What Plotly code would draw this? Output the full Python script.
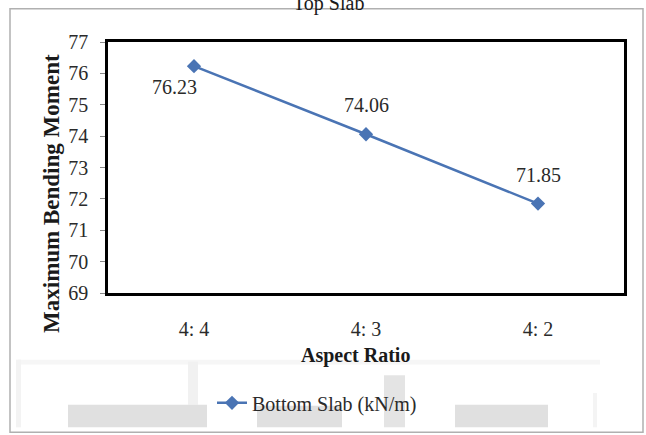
import plotly.graph_objects as go

# ---- data ----
categories = ["4: 4", "4: 3", "4: 2"]
bottom_slab = [76.23, 74.06, 71.85]
series_name = "Bottom Slab (kN/m)"
y_ticks = [69, 70, 71, 72, 73, 74, 75, 76, 77]

# ---- layout geometry (pixels) ----
W, H = 646, 435
ML, MR, MT, MB = 108, 22, 42, 137
PW, PH = W - ML - MR, H - MT - MB

def px(x):
    return (x - ML) / PW

def py(y):
    return (H - MB - y) / PH

FONT = "Liberation Serif"
BLUE = "#4a74b4"
TXT = "#2a2a2a"

fig = go.Figure()
fig.add_trace(go.Scatter(
    x=categories, y=bottom_slab, mode="lines+markers", name=series_name,
    line=dict(color=BLUE, width=2.5),
    marker=dict(symbol="diamond", size=11, color=BLUE),
    cliponaxis=False,
))

# data labels
label_offsets = [(-20, -21), (0, 29), (0, 29)]
annotations = []
for cat, val, (dx, dy) in zip(categories, bottom_slab, label_offsets):
    annotations.append(dict(
        x=cat, y=val, xref="x", yref="y", text=f"{val:.2f}", showarrow=False,
        xshift=dx, yshift=dy, font=dict(family=FONT, size=20, color=TXT),
    ))

# axis titles and chart title (partially cut at top, as in the reference)
annotations.append(dict(
    x=px(355), y=py(362), xref="paper", yref="paper", text="<b>Aspect Ratio</b>",
    showarrow=False, xanchor="center", yanchor="middle",
    font=dict(family=FONT, size=20, color="#1a1a1a"),
))
annotations.append(dict(
    x=px(52), y=py(197), xref="paper", yref="paper", text="<b>Maximum Bending Moment</b>",
    showarrow=False, xanchor="center", yanchor="middle", textangle=-90,
    font=dict(family=FONT, size=23, color="#1a1a1a"),
))
annotations.append(dict(
    x=px(328), y=py(3), xref="paper", yref="paper", text="Top Slab",
    showarrow=False, xanchor="center", yanchor="middle",
    font=dict(family=FONT, size=20, color="#1a1a1a"),
))

# outer frame and faint watermark blocks
shapes = [
    dict(type="rect", xref="paper", yref="paper", x0=px(10), x1=px(643), y0=py(440), y1=py(8),
         line=dict(color="#b0b0b0", width=1.5), fillcolor="rgba(0,0,0,0)", layer="below"),
]
wm = [
    (18, 366, 600, 371, "#f6f6f6"),
    (16, 366, 21, 435, "#f3f3f3"),
    (188, 368, 198, 412, "#f1f1f1"),
    (68, 412, 207, 435, "#e0e0e0"),
    (257, 413, 342, 435, "#e0e0e0"),
    (384, 382, 405, 435, "#e4e4e4"),
    (455, 412, 548, 435, "#e0e0e0"),
    (593, 400, 597, 435, "#f4f4f4"),
]
for x0, y0, x1, y1, c in wm:
    shapes.append(dict(type="rect", xref="paper", yref="paper", x0=px(x0), x1=px(x1),
                       y0=py(y1), y1=py(y0), line=dict(width=0), fillcolor=c, layer="below"))

fig.update_layout(
    width=W, height=H,
    margin=dict(l=ML, r=MR, t=MT, b=MB),
    paper_bgcolor="white", plot_bgcolor="white",
    font=dict(family=FONT, size=20, color=TXT),
    showlegend=True,
    legend=dict(orientation="h", x=px(212), y=py(410), xanchor="left", yanchor="middle",
                bgcolor="rgba(0,0,0,0)", font=dict(family=FONT, size=20, color=TXT)),
    annotations=annotations,
    shapes=shapes,
)
fig.update_xaxes(
    type="category", range=[-0.5, 2.5], showgrid=False, zeroline=False,
    showline=True, linecolor="black", linewidth=2.5, mirror=True,
    ticks="", ticklabelstandoff=16,
    tickfont=dict(family=FONT, size=20, color=TXT),
)
fig.update_yaxes(
    range=[69, 77], tickvals=y_ticks, showgrid=False, zeroline=False,
    showline=True, linecolor="black", linewidth=2.5, mirror=True,
    ticks="outside", ticklen=5, tickcolor="#888888", tickwidth=1,
    ticklabelstandoff=8,
    tickfont=dict(family=FONT, size=20, color=TXT),
)

fig.write_html("out.html")
